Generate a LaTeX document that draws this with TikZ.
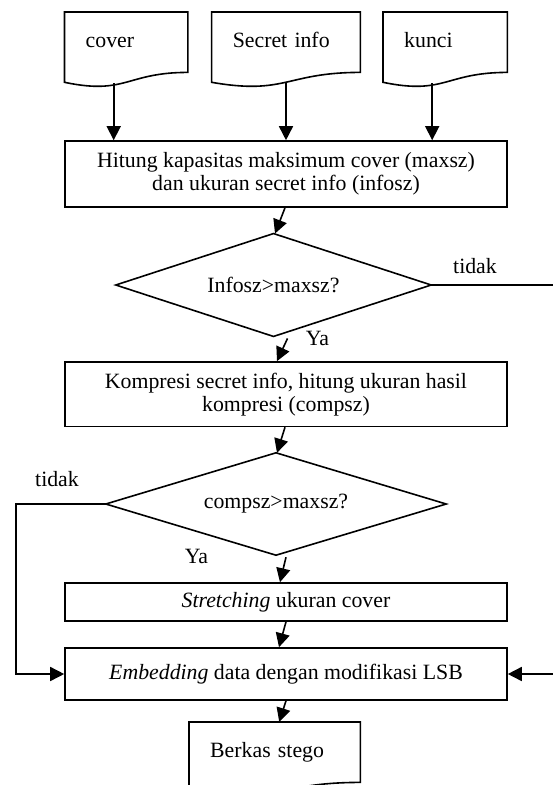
\documentclass[tikz,border=0pt]{standalone}
\usepackage{fontspec}
\setmainfont{Liberation Serif}
\usetikzlibrary{arrows.meta,calc}

\newcommand\flowfont{\fontsize{21.8}{23}\selectfont}
% wavy-bottom document outline drawn under a document node (top part of the sheet)
\newcommand\docwave[1]{%
  \draw[line] (#1.north west) -- (#1.north east) -- (#1.south east)
    .. controls (#1.south) and ($(#1.south)+(0,22.9)$) ..
    ($(#1.south west)+(0,9.9)$) -- cycle;}
% decision outline through the four side midpoints of a node
\newcommand\decoutline[1]{%
  \draw[line] (#1.north) -- (#1.east) -- (#1.south) -- (#1.west) -- cycle;}

\tikzset{
  line/.style={draw=black, line width=1.6pt},
  arr/.style={line, -{Triangle[length=14pt,width=14pt]}},
  procbox/.style={line, rectangle, minimum width=442pt, inner sep=2pt,
    align=center, font=\flowfont},
  decbox/.style={rectangle, inner sep=0pt, font=\flowfont},
  docbox/.style={rectangle, anchor=north west, minimum height=60pt,
    inner xsep=21pt, inner ysep=0pt, align=left, font=\flowfont,
    text height=15pt, text depth=4pt},
  lbl/.style={inner sep=0pt, font=\flowfont}
}

\begin{document}
\begin{tikzpicture}[x=1pt,y=-1pt]
\fill[white] (0,0) rectangle (553,785);
\path[use as bounding box] (0,0) rectangle (553,785);
\clip (0,0) rectangle (553,785);

% input documents
\node[docbox, text width=81pt] (cover) at (64.5,12) {cover};
\node[docbox, text width=106.4pt] (secret) at (211.6,12) {Secret info};
\node[docbox, text width=82pt] (kunci) at (383,12) {kunci};
\docwave{cover}
\docwave{secret}
\docwave{kunci}

% process steps and decisions
\node[procbox, minimum height=66pt] (hitung) at (286,174)
  {Hitung kapasitas maksimum cover (maxsz)\\dan ukuran secret info (infosz)};
\node[decbox, minimum width=315pt, minimum height=102.5pt] (cek1) at (273.5,285)
  {Infosz>maxsz?};
\decoutline{cek1}
\node[procbox, minimum height=64.5pt] (kompresi) at (286,394.2)
  {Kompresi secret info, hitung ukuran hasil\\kompresi (compsz)};
\node[decbox, minimum width=340pt, minimum height=102pt] (cek2) at (276,504)
  {compsz>maxsz?};
\decoutline{cek2}
\node[procbox, minimum height=38pt] (stretch) at (286,602)
  {\textit{Stretching} ukuran cover};
\node[procbox, minimum height=52pt] (embed) at (286,674)
  {\textit{Embedding} data dengan modifikasi LSB};

% output document
\node[docbox, text width=129pt] (stego) at (189,722) {Berkas stego};
\docwave{stego}

% branch labels
\node[lbl] (tidak1) at (475,266) {tidak};
\node[lbl] (ya1) at (317.5,338) {Ya};
\node[lbl] (tidak2) at (57,479) {tidak};
\node[lbl] (ya2) at (196.5,556) {Ya};

% connectors
\coordinate (c1) at ($(cover.south)+(-12.5,11)$);
\coordinate (c2) at ($(secret.south)+(0,10)$);
\coordinate (c3) at ($(kunci.south)+(-13,11)$);
\draw[arr] (c1) -- (c1 |- hitung.north);
\draw[arr] (c2) -- (c2 |- hitung.north);
\draw[arr] (c3) -- (c3 |- hitung.north);
\draw[arr] ([xshift=-1pt]hitung.south) -- ([xshift=1.5pt]cek1.north);
\draw[arr] ([xshift=14pt,yshift=-2pt]cek1.south) -- ([xshift=-9pt]kompresi.north);
\draw[arr] ([xshift=-1pt]kompresi.south) -- ([xshift=1pt]cek2.north);
\draw[arr] ([xshift=10pt,yshift=-2pt]cek2.south) -- ([xshift=-6pt]stretch.north);
\draw[arr] (stretch.south) -- ([xshift=-7pt]embed.north);
\draw[arr] (embed.south) -- ([xshift=4.5pt]stego.north);
\draw[arr] (cek1.east) -- ++(150,0) |- (embed.east);
\draw[arr] (cek2.west) -- ++(-90,0) |- (embed.west);
\end{tikzpicture}
\end{document}
